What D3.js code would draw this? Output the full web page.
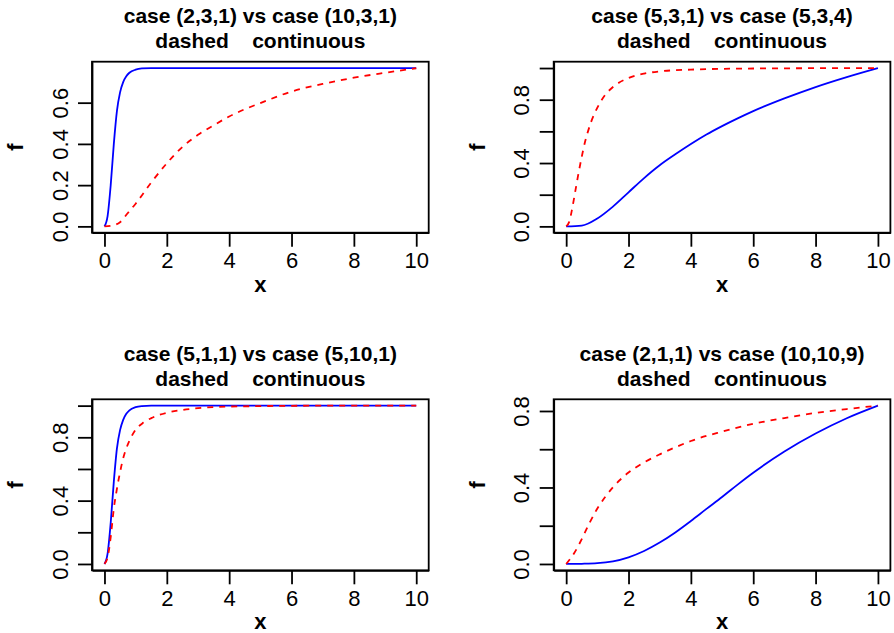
<!DOCTYPE html>
<html>
<head>
<meta charset="utf-8">
<script src="https://cdn.jsdelivr.net/npm/d3@7"></script>
<style>
  body { margin: 0; background: #fff; }
  svg { display: block; font-family: "Liberation Sans", Arial, Helvetica, sans-serif; }
</style>
</head>
<body>
<div id="chart"></div>
<script>
// tick values and labels
var xTicks = [0, 2, 4, 6, 8, 10];
var titles = [
  'case (2,3,1) vs case (10,3,1)',
  'case (5,3,1) vs case (5,3,4)',
  'case (5,1,1) vs case (5,10,1)',
  'case (2,1,1) vs case (10,10,9)'
];
var subtitle = 'dashed    continuous';

var yTicks1 = [0, 0.2, 0.4, 0.6];
var yLabeled1 = [0, 0.2, 0.4, 0.6];
var yTicks2 = [0, 0.2, 0.4, 0.6, 0.8, 1];
var yLabeled2 = [0, 0.4, 0.8];
var yTicks4 = [0, 0.2, 0.4, 0.6, 0.8];
var yLabeled4 = [0, 0.4, 0.8];

// series: [x, f]
var dashed1 = [[0, 0], [0.25, 0.004], [0.5, 0.02], [0.75, 0.065], [1, 0.11], [1.5, 0.213],
  [2, 0.306], [2.5, 0.385], [3, 0.444], [3.5, 0.49], [4, 0.533], [4.5, 0.568], [5, 0.598],
  [6, 0.654], [7, 0.691], [8, 0.721], [9, 0.745], [10, 0.767]];
var solid1 = [[0, 0], [0.1, 0.05], [0.2, 0.2], [0.3, 0.4], [0.4, 0.56], [0.5, 0.65],
  [0.6, 0.7], [0.7, 0.728], [0.8, 0.745], [1, 0.76], [1.2, 0.766], [1.5, 0.768],
  [2, 0.768], [4, 0.768], [6, 0.768], [8, 0.768], [10, 0.768]];

var dashed2 = [[0, 0], [0.1, 0.03], [0.2, 0.12], [0.3, 0.23], [0.4, 0.34], [0.5, 0.44],
  [0.6, 0.53], [0.7, 0.6], [0.8, 0.66], [1, 0.75], [1.25, 0.83], [1.5, 0.88], [2, 0.937],
  [2.5, 0.965], [3, 0.979], [4, 0.99], [5, 0.995], [6, 0.997], [8, 0.999], [10, 1]];
var solid2 = [[0, 0], [0.5, 0.005], [1, 0.05], [1.5, 0.125], [2, 0.215], [2.5, 0.305],
  [3, 0.386], [3.5, 0.455], [4, 0.52], [4.5, 0.58], [5, 0.633], [5.5, 0.682], [6, 0.728],
  [7, 0.808], [8, 0.88], [9, 0.943], [10, 1]];

var dashed3 = [[0, 0], [0.1, 0.04], [0.2, 0.17], [0.3, 0.35], [0.4, 0.475], [0.5, 0.58],
  [0.6, 0.667], [0.7, 0.73], [0.8, 0.778], [1, 0.848], [1.25, 0.893], [1.5, 0.921],
  [2, 0.955], [2.5, 0.973], [3, 0.984], [4, 0.994], [5, 0.997], [6, 0.999], [8, 1], [10, 1]];
var solid3 = [[0, 0], [0.1, 0.065], [0.2, 0.26], [0.3, 0.52], [0.4, 0.73], [0.5, 0.845],
  [0.6, 0.91], [0.7, 0.948], [0.8, 0.97], [1, 0.99], [1.2, 0.997], [1.5, 1], [2, 1],
  [4, 1], [6, 1], [8, 1], [10, 1]];

var dashed4 = [[0, 0], [0.25, 0.055], [0.5, 0.13], [0.75, 0.215], [1, 0.29], [1.25, 0.35],
  [1.5, 0.401], [1.75, 0.443], [2, 0.478], [2.5, 0.531], [3, 0.573], [3.5, 0.61], [4, 0.643],
  [5, 0.692], [6, 0.733], [7, 0.763], [8, 0.79], [9, 0.81], [10, 0.828]];
var solid4 = [[0, 0], [0.5, 0.001], [1, 0.004], [1.5, 0.014], [2, 0.035], [2.5, 0.068],
  [3, 0.112], [3.5, 0.165], [4, 0.225], [4.5, 0.288], [5, 0.35], [5.5, 0.415], [6, 0.477],
  [7, 0.588], [8, 0.682], [9, 0.762], [10, 0.828]];

var width = 894;
var height = 633;
var boxW = 336.7;
var boxH = 171;
var colLeft = [92, 553.7];
var rowTop = [61.7, 399.3];
var lw = 1.8;

var panels = [
  { title: titles[0], dashed: dashed1, solid: solid1, ticks: yTicks1, labeled: yLabeled1, col: 0, row: 0 },
  { title: titles[1], dashed: dashed2, solid: solid2, ticks: yTicks2, labeled: yLabeled2, col: 1, row: 0 },
  { title: titles[2], dashed: dashed3, solid: solid3, ticks: yTicks2, labeled: yLabeled2, col: 0, row: 1 },
  { title: titles[3], dashed: dashed4, solid: solid4, ticks: yTicks4, labeled: yLabeled4, col: 1, row: 1 }
];

var svg = d3.select('#chart').append('svg')
  .attr('width', width)
  .attr('height', height);

function padded(lo, hi) {
  var p = (hi - lo) * 0.04;
  return [lo - p, hi + p];
}

panels.forEach(function(p) {
  var g = svg.append('g')
    .attr('transform', 'translate(' + colLeft[p.col] + ',' + rowTop[p.row] + ')');

  var all = p.dashed.concat(p.solid);
  var x = d3.scaleLinear().domain(padded(0, 10)).range([0, boxW]);
  var y = d3.scaleLinear()
    .domain(padded(d3.min(all, function(d) { return d[1]; }), d3.max(all, function(d) { return d[1]; })))
    .range([boxH, 0]);

  // x axis
  var xa = g.append('g')
    .attr('transform', 'translate(0,' + boxH + ')')
    .call(d3.axisBottom(x).tickValues(xTicks).tickSize(14).tickSizeOuter(0));
  xa.selectAll('text')
    .attr('y', 35.3).attr('dy', 0)
    .style('font-size', '22px').attr('fill', '#000');

  // y axis, labels turned like R's las=0
  var fmt = d3.format('.1f');
  var ya = g.append('g')
    .call(d3.axisLeft(y).tickValues(p.ticks).tickSize(14).tickSizeOuter(0)
      .tickFormat(function(d) { return p.labeled.indexOf(d) >= 0 ? fmt(d) : ''; }));
  ya.selectAll('text')
    .attr('x', 0).attr('dy', 0)
    .attr('text-anchor', 'middle')
    .attr('transform', 'translate(-24.5,0) rotate(-90)')
    .style('font-size', '22px').attr('fill', '#000');

  g.selectAll('.domain, .tick line')
    .attr('stroke', '#000').attr('stroke-width', lw);

  // box
  g.append('rect')
    .attr('width', boxW).attr('height', boxH)
    .attr('fill', 'none').attr('stroke', '#000').attr('stroke-width', lw);

  var line = d3.line()
    .x(function(d) { return x(d[0]); })
    .y(function(d) { return y(d[1]); })
    .curve(d3.curveMonotoneX);

  g.append('path').datum(p.solid)
    .attr('d', line)
    .attr('fill', 'none').attr('stroke', '#0000ff').attr('stroke-width', lw);

  g.append('path').datum(p.dashed)
    .attr('d', line)
    .attr('fill', 'none').attr('stroke', '#ff0000').attr('stroke-width', lw)
    .attr('stroke-dasharray', '6,6');

  // titles
  g.append('text')
    .attr('x', boxW / 2).attr('y', -38.7)
    .attr('text-anchor', 'middle')
    .style('font-size', '21px').style('font-weight', 'bold')
    .text(p.title);
  g.append('text')
    .attr('x', boxW / 2).attr('y', -13.4)
    .attr('text-anchor', 'middle')
    .style('font-size', '21px').style('font-weight', 'bold')
    .style('white-space', 'pre')
    .text(subtitle);

  // axis labels
  g.append('text')
    .attr('x', boxW / 2).attr('y', boxH + 59)
    .attr('text-anchor', 'middle')
    .style('font-size', '22px').style('font-weight', 'bold')
    .text('x');
  g.append('text')
    .attr('text-anchor', 'middle')
    .attr('transform', 'translate(-69,' + (boxH / 2) + ') rotate(-90)')
    .style('font-size', '22px').style('font-weight', 'bold')
    .text('f');
});
</script>
</body>
</html>
